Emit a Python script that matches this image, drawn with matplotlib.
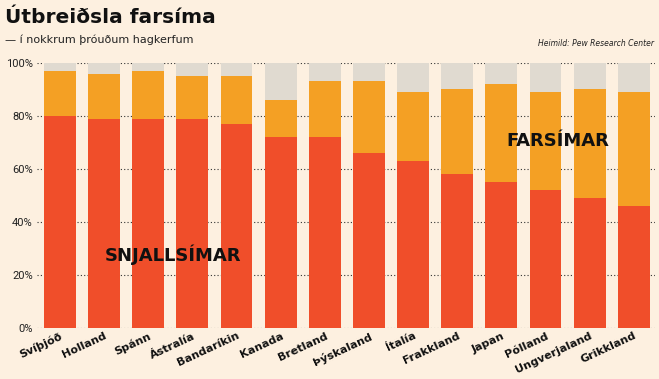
import matplotlib.pyplot as plt
import numpy as np

# Gögn (lesin af mynd)
countries = ["Svíþjóð", "Holland", "Spánn", "Ástralía", "Bandaríkin", "Kanada",
             "Bretland", "Þýskaland", "Ítalía", "Frakkland", "Japan", "Pólland",
             "Ungverjaland", "Grikkland"]
smartphone = [80, 79, 79, 79, 77, 72, 72, 66, 63, 58, 55, 52, 49, 46]
any_phone = [97, 96, 97, 95, 95, 86, 93, 93, 89, 90, 92, 89, 90, 89]
yticks = [0, 20, 40, 60, 80, 100]

bg = "#fdf0e0"
c_smart = "#f04e2a"
c_basic = "#f4a024"
c_none = "#e0dad0"

smart = np.array(smartphone)
total = np.array(any_phone)
basic = total - smart
rest = 100 - total

fig = plt.figure(figsize=(6.59, 3.79), dpi=100, facecolor=bg)
ax = fig.add_axes([0.056, 0.1346, 0.938, 0.6994], facecolor=bg)

x = np.arange(len(countries))
w = 0.72
ax.bar(x, smart, width=w, color=c_smart, zorder=2)
ax.bar(x, basic, width=w, bottom=smart, color=c_basic, zorder=2)
ax.bar(x, rest, width=w, bottom=total, color=c_none, zorder=2)

ax.set_xlim(-0.52, 13.48)
ax.set_ylim(0, 100)
ax.set_yticks(yticks)
ax.set_yticklabels([f"{v}%" for v in yticks], fontsize=8, family="Roboto",
                   color="#222222")
ax.yaxis.grid(True, linestyle=(0, (1, 2)), color="#333333", linewidth=0.8, zorder=0)
ax.tick_params(axis="y", length=0, pad=3)
ax.tick_params(axis="x", length=0, pad=2)
for s in ax.spines.values():
    s.set_visible(False)

ax.set_xticks(x)
ax.set_xticklabels(countries, rotation=25, ha="right", va="top",
                   rotation_mode="anchor", fontsize=8, fontweight="bold",
                   color="#111111")

ax.text(2.56, 27.5, "SNJALLSÍMAR", ha="center", va="center",
        fontsize=13, fontweight="heavy", color="#111111", zorder=3)
ax.text(11.28, 70.6, "FARSÍMAR", ha="center", va="center",
        fontsize=13, fontweight="heavy", color="#111111", zorder=3)

fig.text(0.008, 0.953, "Útbreiðsla farsíma", ha="left", va="center",
         fontsize=14.5, fontweight="bold", color="#111111")
fig.text(0.008, 0.895, "— í nokkrum þróuðum hagkerfum", ha="left", va="center",
         fontsize=8, color="#222222")
fig.text(0.992, 0.885, "Heimild: Pew Research Center", ha="right", va="center",
         fontsize=5.5, style="italic", color="#222222")

fig.savefig("out.png", dpi=100, facecolor=bg)
